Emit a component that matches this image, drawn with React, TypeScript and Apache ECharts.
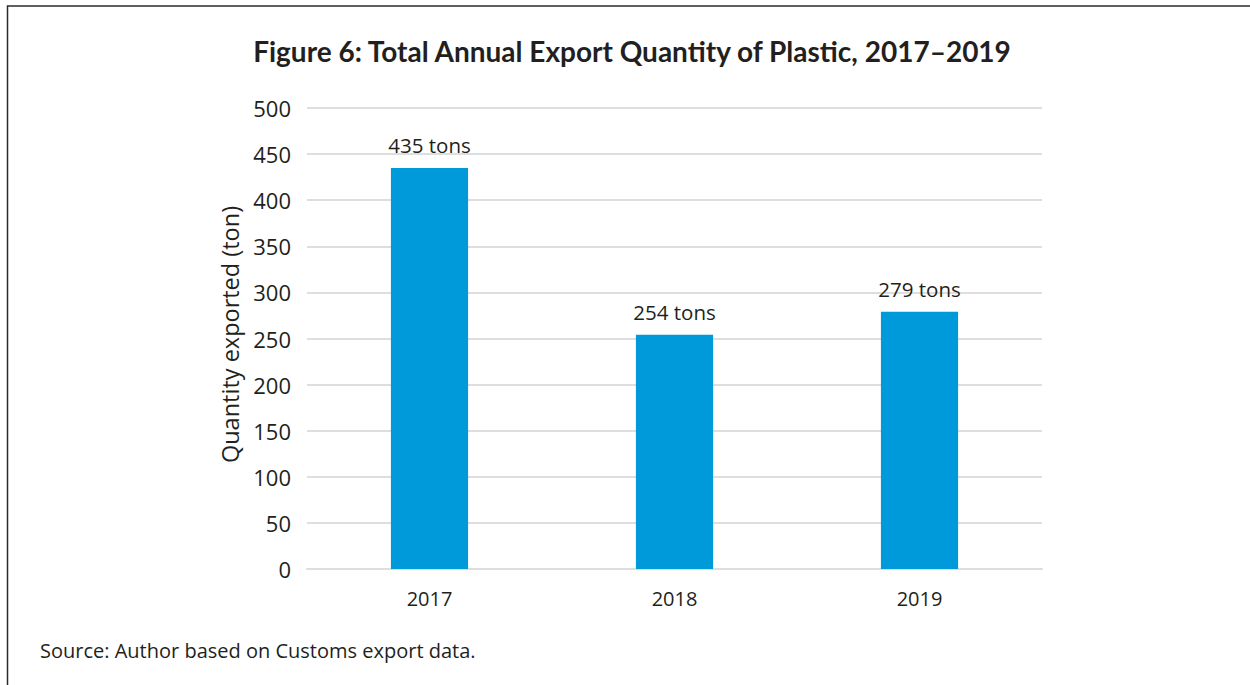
import React, { useEffect, useRef } from "react";
import * as echarts from "echarts";

const categories = ["2017", "2018", "2019"];
const values = [435, 254, 279];
const yTicks = [0, 50, 100, 150, 200, 250, 300, 350, 400, 450, 500];

const TEXT = "#231f20";
const TITLE_FONT = "Lato, 'Noto Sans', sans-serif";
const FONT = "'Open Sans', 'Noto Sans', sans-serif";

export default function App() {
  const ref = useRef<HTMLDivElement>(null);
  useEffect(() => {
    if (!ref.current) return;
    const chart = echarts.init(ref.current, undefined, { renderer: "svg" });
    chart.setOption({
      animation: false,
      backgroundColor: "#ffffff",
      title: {
        text: "Figure 6: Total Annual Export Quantity of Plastic, 2017–2019",
        left: 627,
        top: 32,
        textAlign: "center",
        textStyle: { fontFamily: TITLE_FONT, fontWeight: "bold", fontSize: 28, color: TEXT },
      },
      grid: { left: 307, right: 208, top: 108, bottom: 116 },
      xAxis: {
        type: "category",
        data: categories,
        axisLine: { show: true, lineStyle: { color: "#dedede", width: 2 } },
        axisTick: { show: false },
        axisLabel: { color: TEXT, fontSize: 20, fontFamily: FONT, margin: 19 },
      },
      yAxis: {
        type: "value",
        min: yTicks[0],
        max: yTicks[yTicks.length - 1],
        interval: 50,
        name: "Quantity exported (ton)",
        nameLocation: "middle",
        nameGap: 65,
        nameTextStyle: { color: TEXT, fontSize: 23.5, fontFamily: FONT, padding: [0, 0, 0, 8] },
        axisLine: { show: false },
        axisTick: { show: false },
        axisLabel: { color: TEXT, fontSize: 22, fontFamily: FONT, margin: 16 },
        splitLine: { lineStyle: { color: "#dedede", width: 2 } },
      },
      series: [
        {
          type: "bar",
          data: values,
          barWidth: "31.5%",
          itemStyle: { color: "#009ADA" },
          label: {
            show: true,
            position: "top",
            distance: 12,
            formatter: (p: any) => `${p.value} tons`,
            color: TEXT,
            fontSize: 20.5,
            fontFamily: FONT,
          },
        },
      ],
      graphic: [
        {
          type: "rect",
          shape: { x: 7.5, y: 6, width: 1400, height: 900 },
          style: { fill: "none", stroke: "#2b2b2b", lineWidth: 1.5 },
          silent: true,
        },
        {
          type: "text",
          left: 40,
          top: 640,
          style: {
            text: "Source: Author based on Customs export data.",
            fill: TEXT,
            fontSize: 20,
            fontFamily: FONT,
          },
        },
      ],
    });
    return () => chart.dispose();
  }, []);
  return (
    <div
      ref={ref}
      style={{ position: "fixed", left: 0, top: 0, width: 1250, height: 685 }}
    />
  );
}
